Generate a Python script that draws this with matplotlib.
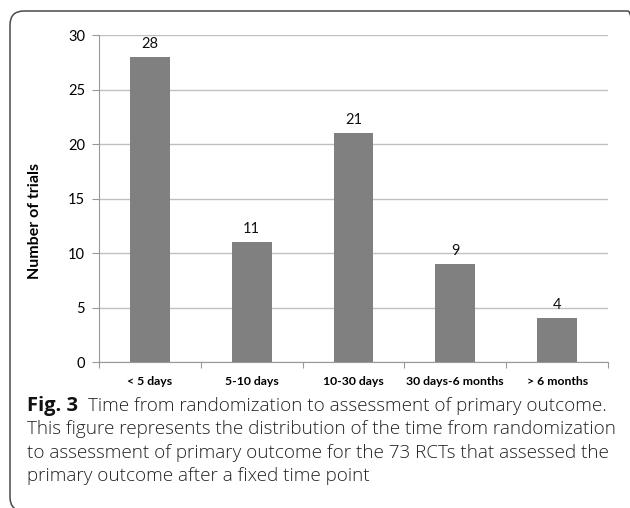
import numpy as np
import matplotlib
matplotlib.use('Agg')
import matplotlib.pyplot as plt
from matplotlib.patches import FancyBboxPatch
from matplotlib.transforms import IdentityTransform

categories = ['< 5 days', '5-10 days', '10-30 days', '30 days-6 months', '> 6 months']
trials = [28, 11, 21, 9, 4]
y_ticks = [0, 5, 10, 15, 20, 25, 30]

caption_title = 'Fig. 3'
caption_lines = ['Time from randomization to assessment of primary outcome.',
                 'This figure represents the distribution of the time from randomization',
                 'to assessment of primary outcome for the 73 RCTs that assessed the',
                 'primary outcome after a fixed time point']

W, H = 630, 508
fig = plt.figure(figsize=(W / 100, H / 100), dpi=100)

# rounded frame in pixels, running off the right and bottom edges
frame = FancyBboxPatch((10, -3), 632, H - 11 + 3,
                       boxstyle='round,pad=0,rounding_size=14',
                       transform=IdentityTransform(), fill=False,
                       edgecolor='#4a4a4a', linewidth=1.1)
fig.patches.append(frame)

chart_font = 'Lato'
ax = fig.add_axes([99 / W, 1 - 362 / H, (608 - 99) / W, (362 - 35.3) / H])
x = np.arange(len(categories))
ax.bar(x, trials, width=0.39, color='#808080', zorder=3)
for xi, v in zip(x, trials):
  ax.text(xi, v + 0.55, str(v), ha='center', va='bottom', fontsize=10.5,
          family=chart_font, color='#111111')

ax.set_xlim(-0.5, len(categories) - 0.5)
ax.set_ylim(0, 30)
ax.set_yticks(y_ticks)
ax.set_yticklabels([str(t) for t in y_ticks], family=chart_font, fontsize=10.5)
ax.yaxis.grid(True, color='#c0c0c0', linewidth=1, zorder=0)
ax.set_axisbelow(True)

ax.set_xticks(np.arange(-0.5, len(categories), 1.0))
ax.set_xticklabels([])
ax.set_xticks(x, minor=True)
ax.set_xticklabels(categories, minor=True, family=chart_font, fontsize=8.8,
                   fontweight='bold')
ax.tick_params(axis='x', which='minor', length=0, pad=10)
ax.tick_params(axis='x', which='major', length=4, color='#999999')
ax.tick_params(axis='y', length=5, color='#999999', pad=5)

for s in ['top', 'right']:
  ax.spines[s].set_visible(False)
for s in ['left', 'bottom']:
  ax.spines[s].set_color('#999999')

ax.set_ylabel('Number of trials', family=chart_font, fontsize=11.5,
              fontweight='bold')
ax.yaxis.set_label_coords(-57 / 509, 1 - (221 - 35.3) / (362 - 35.3))

# caption
cap_font = 'Open Sans'
cap_size = 13.6
baselines = [411, 434.5, 458, 481]
fig.text(27 / W, 1 - baselines[0] / H, caption_title, fontsize=14.5,
         fontweight='bold', family=cap_font, va='baseline', color='#111111')
fig.text(88 / W, 1 - baselines[0] / H, caption_lines[0], fontsize=cap_size,
         family=cap_font, va='baseline', fontweight='light', color='#222222')
for ln, yb in zip(caption_lines[1:], baselines[1:]):
  fig.text(27 / W, 1 - yb / H, ln, fontsize=cap_size, family=cap_font,
           va='baseline', fontweight='light', color='#222222')

fig.savefig('out.png', dpi=100)
